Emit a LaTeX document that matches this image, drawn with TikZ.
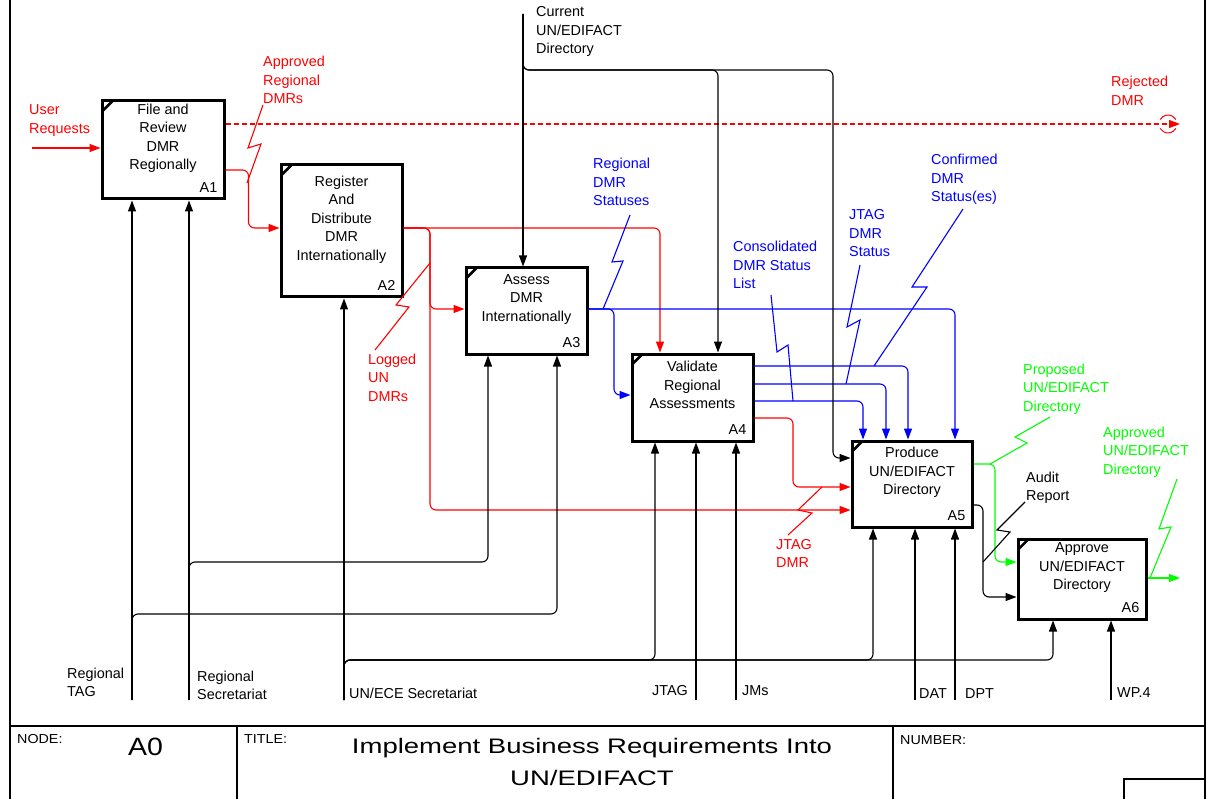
\documentclass[tikz,border=0pt]{standalone}
\usepackage{fontspec}
\setmainfont{Liberation Sans}
\newfontfamily\framefont[FakeStretch=1.1]{Liberation Sans}
\newfontfamily\bigframefont[FakeStretch=1.14]{Liberation Sans}
\newfontfamily\titlefont[FakeStretch=1.31]{Liberation Sans}
\usetikzlibrary{calc, arrows.meta}

\definecolor{idefred}{RGB}{255,0,0}
\definecolor{idefblue}{RGB}{0,0,255}
\definecolor{idefgreen}{RGB}{0,255,0}

\begin{document}
\begin{tikzpicture}[x=1pt, y=-1pt,
    every node/.style={inner sep=0pt, font=\fontsize{14.4}{18.5}\selectfont},
    activity/.style={draw, rectangle, line width=3pt, inner sep=0pt},
    flow/.style={line width=1.1pt, rounded corners=6pt, -{Triangle[length=11pt,width=8pt]}},
    squiggle/.style={line width=1.1pt},
    lbl/.style={anchor=base west, align=left},
    framefnt/.style={font=\framefont\fontsize{13}{15}\selectfont}]
\useasboundingbox (0,0) rectangle (1209,799);

% frame
\draw[line width=1.5pt] (10,0) -- (10,799);
\draw[line width=1.5pt] (1205,0) -- (1205,799);
\draw[line width=1.5pt] (10,726) -- (1205,726);
\draw[line width=1.5pt] (237,726) -- (237,799);
\draw[line width=1.5pt] (893,726) -- (893,799);
\draw[line width=1.5pt] (1124,799) |- (1205,779);

\node[lbl, framefnt] (nodehdr) at (17,743) {NODE:};
\node[anchor=base, font=\bigframefont\fontsize{25}{30}\selectfont] (nodeid) at (145.5,755) {A0};
\node[lbl, framefnt] (titlehdr) at (244,743) {TITLE:};
\node[anchor=base, align=center, font=\titlefont\fontsize{21}{32}\selectfont] (title) at (592,785)
  {Implement Business Requirements Into\\UN/EDIFACT};
\node[lbl, framefnt] (numhdr) at (900,744) {NUMBER:};

% activities
\node[activity, minimum width=122, minimum height=98] (a1) at (163,150) {};
\node[activity, minimum width=121, minimum height=132] (a2) at (341.5,231) {};
\node[activity, minimum width=121, minimum height=86] (a3) at (526.5,311) {};
\node[activity, minimum width=121, minimum height=87] (a4) at (692.5,397.5) {};
\node[activity, minimum width=120, minimum height=86] (a5) at (912,484) {};
\node[activity, minimum width=128, minimum height=80] (a6) at (1082,579) {};

\foreach \b/\t in {a1/A1, a2/A2, a3/A3, a4/A4, a5/A5, a6/A6} {
  \draw[line width=2.5pt] ($(\b.north west)+(1.5,12)$) -- ($(\b.north west)+(12,1.5)$);
  \node[anchor=base east] (\b id) at ($(\b.south east)+(-8,-8)$) {\t};
}

\node[anchor=base, align=center] (a1t) at ($(a1.north)+(0,70.5)$) {File and\\Review\\DMR\\Regionally};
\node[anchor=base, align=center] (a2t) at ($(a2.north)+(0,97)$) {Register\\And\\Distribute\\DMR\\Internationally};
\node[anchor=base, align=center] (a3t) at ($(a3.north)+(0,55)$) {Assess\\DMR\\Internationally};
\node[anchor=base, align=center] (a4t) at ($(a4.north)+(0,56)$) {Validate\\Regional\\Assessments};
\node[anchor=base, align=center] (a5t) at ($(a5.north)+(0,55)$) {Produce\\UN/EDIFACT\\Directory};
\node[anchor=base, align=center] (a6t) at ($(a6.north)+(0,52)$) {Approve\\UN/EDIFACT\\Directory};

% free ends
\coordinate (userin) at (32,148);
\coordinate (rejout) at (1180,124);
\coordinate (curin) at (523,14);
\coordinate (a6out) at (1180,578);
\foreach \n/\x in {tagin/132, secin/189, ecein/344, jtagin/696, jmsin/736, datin/915, dptin/955, wpin/1111}
  \coordinate (\n) at (\x,700);

% red flows
\draw[flow, idefred] (userin) -- (userin -| a1.west);
\draw[flow, idefred] (a1.east |- 0,170) -- ++(23,0) |- (a2.west |- 0,228);
\draw[flow, idefred, dash pattern=on 5pt off 3pt] (a1.east |- 0,124) -- (rejout);
\draw[idefred, line width=1pt] (1168,124) ++(30:9) arc[start angle=30, end angle=150, radius=9];
\draw[idefred, line width=1pt] (1168,124) ++(210:9) arc[start angle=210, end angle=330, radius=9];
\draw[flow, idefred] (a2.east |- 0,228) -| (660,0 |- a4.north);
\draw[flow, idefred] (a2.east |- 0,228) -- (430,228) |- (a3.west |- 0,309);
\draw[flow, idefred] (a2.east |- 0,228) -- (430,228) |- (a5.west |- 0,510);
\draw[flow, idefred] (a4.east |- 0,418) -- (793,418) |- (a5.west |- 0,487);

% blue flows
\draw[flow, idefblue] (a3.east |- 0,309) -| (955,0 |- a5.north);
\draw[flow, idefblue] (a3.east |- 0,309) -- (614,309) |- (a4.west |- 0,395);
\draw[flow, idefblue] (a4.east |- 0,366) -| (908,0 |- a5.north);
\draw[flow, idefblue] (a4.east |- 0,384) -| (886,0 |- a5.north);
\draw[flow, idefblue] (a4.east |- 0,401) -| (863,0 |- a5.north);

% green flows
\draw[flow, idefgreen] (a5.east |- 0,464) -- (995,464) |- (a6.west |- 0,562);
\draw[flow, idefgreen] (a6.east |- a6out) -- (a6out);

% controls
\draw[flow] (curin) -- (curin |- a3.north);
\draw[flow] (curin) |- (718,70) -- (718,0 |- a4.north);
\draw[flow] (curin) |- (833,70) |- (a5.west |- 0,458);
\draw[flow] (a5.east |- 0,505) -- (983,505) |- (a6.west |- 0,597);

% mechanisms
\draw[flow] (tagin) -- (tagin |- a1.south);
\draw[flow] (tagin) |- (557,614) -- (557,0 |- a3.south);
\draw[flow] (secin) -- (secin |- a1.south);
\draw[flow] (secin) |- (488,562) -- (488,0 |- a3.south);
\draw[flow] (ecein) -- (ecein |- a2.south);
\draw[flow] (ecein) |- (655,660) -- (655,0 |- a4.south);
\draw[flow] (ecein) |- (873,660) -- (873,0 |- a5.south);
\draw[flow] (ecein) |- (1053,660) -- (1053,0 |- a6.south);
\draw[flow] (jtagin) -- (jtagin |- a4.south);
\draw[flow] (jmsin) -- (jmsin |- a4.south);
\draw[flow] (datin) -- (datin |- a5.south);
\draw[flow] (dptin) -- (dptin |- a5.south);
\draw[flow] (wpin) -- (wpin |- a6.south);

% labels (placed at the baseline of their last line)
\node[lbl, idefred] (userlbl) at (29,133.5) {User\\Requests};
\node[lbl, idefred] (apprlbl) at (263,104) {Approved\\Regional\\DMRs};
\node[lbl, idefred] (rejlbl) at (1111,105.5) {Rejected\\DMR};
\node[lbl, idefred] (loglbl) at (368,401) {Logged\\UN\\DMRs};
\node[lbl, idefred] (jdmrlbl) at (776,567.5) {JTAG\\DMR};
\node[lbl, idefblue] (statlbl) at (593,206) {Regional\\DMR\\Statuses};
\node[lbl, idefblue] (conflbl) at (931,202) {Confirmed\\DMR\\Status(es)};
\node[lbl, idefblue] (jstatlbl) at (849,257) {JTAG\\DMR\\Status};
\node[lbl, idefblue] (conslbl) at (733,289) {Consolidated\\DMR Status\\List};
\node[lbl, idefgreen] (proplbl) at (1023,411) {Proposed\\UN/EDIFACT\\Directory};
\node[lbl, idefgreen] (apdirlbl) at (1103,474) {Approved\\UN/EDIFACT\\Directory};
\node[lbl] (curlbl) at (536,54) {Current\\UN/EDIFACT\\Directory};
\node[lbl] (auditlbl) at (1026,500.5) {Audit\\Report};
\node[lbl] (taglbl) at (67,696.5) {Regional\\TAG};
\node[lbl] (seclbl) at (197,699.5) {Regional\\Secretariat};
\node[lbl] (ecelbl) at (349,698) {UN/ECE Secretariat};
\node[lbl] (jtaglbl) at (652,695) {JTAG};
\node[lbl] (jmslbl) at (742,695) {JMs};
\node[lbl] (datlbl) at (919,698) {DAT};
\node[lbl] (dptlbl) at (965,698) {DPT};
\node[lbl] (wplbl) at (1117,697) {WP.4};

% squiggles
\draw[squiggle, idefred] (263,105) -- (248,148) -- (261,144) -- (247,183);
\draw[squiggle, idefred] (375,350) -- (409,307) -- (396,305) -- (430,263);
\draw[squiggle, idefred] (788,535) -- (812,513) -- (798,510) -- (822,487);
\draw[squiggle, idefblue] (630,215) -- (612,262) -- (623,261) -- (603,309);
\draw[squiggle, idefblue] (771,295) -- (777,352) -- (788,345) -- (793,401);
\draw[squiggle, idefblue] (860,265) -- (847,327) -- (860,320) -- (846,384);
\draw[squiggle, idefblue] (963,209) -- (912,287) -- (927,287) -- (874,366);
\draw[squiggle, idefgreen] (1050,417) -- (1015,437) -- (1027,443) -- (990,464);
\draw[squiggle, idefgreen] (1177,479) -- (1159,529) -- (1171,527) -- (1150,578);
\draw[squiggle] (1025,502) -- (997,530) -- (1010,532) -- (983,562);
\end{tikzpicture}
\end{document}
